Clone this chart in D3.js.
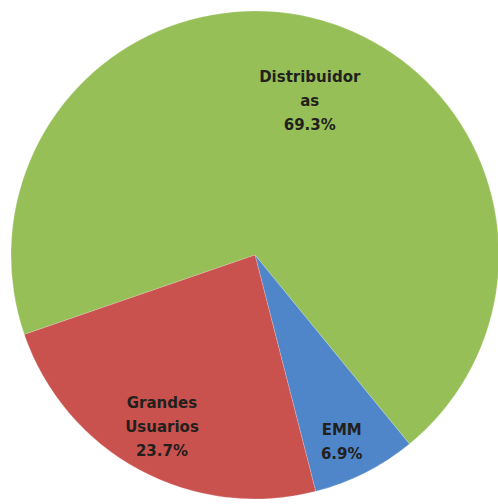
<!DOCTYPE html>
<html>
<head>
<meta charset="utf-8">
<script src="https://cdn.jsdelivr.net/npm/d3@7"></script>
<style>
  html, body { margin: 0; padding: 0; background: #ffffff; }
  svg { display: block; }
</style>
</head>
<body>
<svg id="chart" width="498" height="504"></svg>
<script>
// Share of consumption by customer type
const categories = ["Distribuidoras", "EMM", "Grandes Usuarios"];
const shares = [69.3, 6.9, 23.7];
// How each category name is broken across lines inside its slice
const labelLines = [["Distribuidor", "as"], ["EMM"], ["Grandes", "Usuarios"]];

const colors = ["#97bf58", "#4e86c9", "#c9524f"];
// Label anchor per slice: angle (degrees, clockwise from top) and distance from centre
const labelPlacement = [
  { angle: 19.5, dist: 164 },
  { angle: 155.1, dist: 206 },
  { angle: 208.5, dist: 195 }
];

const width = 498, height = 504;
const cx = 255, cy = 255, radius = 244;

const svg = d3.select("#chart");
const g = svg.append("g").attr("transform", `translate(${cx},${cy})`);

const data = categories.map((c, i) => ({ name: c, value: shares[i], i }));

const pie = d3.pie()
  .value(d => d.value)
  .sort(null)
  .startAngle(-109 * Math.PI / 180)
  .endAngle((360 - 109) * Math.PI / 180);

const arc = d3.arc().innerRadius(0).outerRadius(radius);

const arcs = pie(data);

g.selectAll("path.slice")
  .data(arcs)
  .join("path")
  .attr("class", "slice")
  .attr("d", arc)
  .attr("fill", d => colors[d.data.i])
  .attr("stroke", "rgba(255,255,255,0.3)")
  .attr("stroke-width", 0.6);

const lineHeight = 24;
g.selectAll("text.lbl")
  .data(arcs)
  .join("text")
  .attr("class", "lbl")
  .attr("text-anchor", "middle")
  .attr("font-family", "'DejaVu Sans', sans-serif")
  .attr("font-weight", "bold")
  .attr("font-size", 15)
  .attr("fill", "#231f1c")
  .each(function(d) {
    const p = labelPlacement[d.data.i];
    const a = p.angle * Math.PI / 180;
    const x = Math.sin(a) * p.dist;
    const y = -Math.cos(a) * p.dist;
    const lines = labelLines[d.data.i].concat([d3.format(".1f")(d.data.value) + "%"]);
    const top = y - (lines.length - 1) * lineHeight / 2;
    const t = d3.select(this);
    lines.forEach((ln, k) => {
      t.append("tspan")
        .attr("x", x)
        .attr("y", top + k * lineHeight)
        .attr("dy", "0.35em")
        .text(ln);
    });
  });
</script>
</body>
</html>
